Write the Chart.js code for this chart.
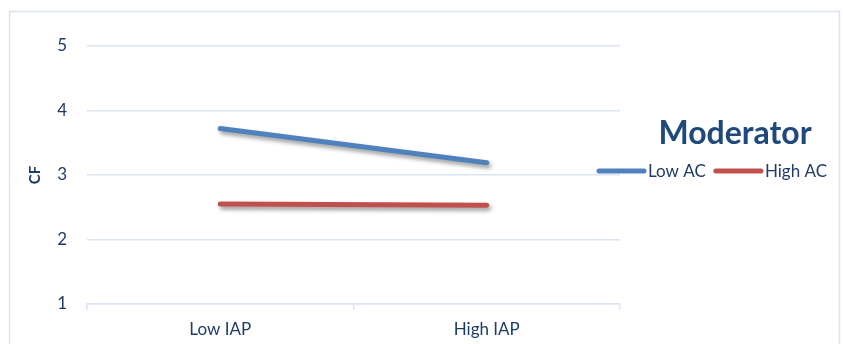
<!DOCTYPE html>
<html>
<head>
<meta charset="utf-8">
<script src="https://cdn.jsdelivr.net/npm/chart.js@4/dist/chart.umd.min.js"></script>
<style>
  html, body { margin: 0; padding: 0; background: #ffffff; }
  #wrap { width: 843px; height: 344px; position: relative; }
</style>
</head>
<body>
<div id="wrap"><canvas id="c" width="843" height="344"></canvas></div>
<script>
// Interaction plot: CF by IAP level, split by the AC moderator
const categories = ['Low IAP', 'High IAP'];
const lowAC = [3.72, 3.19];
const highAC = [2.55, 2.53];
const seriesNames = ['Low AC', 'High AC'];
const legendTitle = 'Moderator';
const yTitle = 'CF';
const yTicks = [1, 2, 3, 4, 5];

const FONT = 'Lato, "Open Sans", sans-serif';
const TEXT = '#1f3b66';
const GRID = '#d9e3f2';

// Soft drop shadow under each series line
const shadowPlugin = {
  id: 'lineShadow',
  beforeDatasetDraw(chart) {
    const ctx = chart.ctx;
    ctx.save();
    ctx.shadowColor = 'rgba(0,0,0,0.4)';
    ctx.shadowBlur = 4;
    ctx.shadowOffsetX = 2;
    ctx.shadowOffsetY = 3;
  },
  afterDatasetDraw(chart) {
    chart.ctx.restore();
  }
};

// Frame around the whole chart plus the side legend with its title
const framePlugin = {
  id: 'frameAndLegend',
  beforeDraw(chart) {
    const ctx = chart.ctx;
    ctx.save();
    ctx.strokeStyle = GRID;
    ctx.lineWidth = 1.5;
    ctx.beginPath();
    ctx.moveTo(9.5, 360);
    ctx.lineTo(9.5, 11.5);
    ctx.lineTo(839.5, 11.5);
    ctx.lineTo(839.5, 360);
    ctx.stroke();
    ctx.restore();
  },
  afterDraw(chart) {
    const ctx = chart.ctx;
    ctx.save();
    ctx.fillStyle = '#1f497d';
    ctx.font = 'bold 32px ' + FONT;
    ctx.textAlign = 'center';
    ctx.textBaseline = 'middle';
    ctx.fillText(legendTitle, 735, 134);

    ctx.font = '17px ' + FONT;
    ctx.textAlign = 'left';
    let x = 599;
    const y = 171;
    chart.data.datasets.forEach((ds) => {
      ctx.strokeStyle = ds.borderColor;
      ctx.lineWidth = 5;
      ctx.lineCap = 'round';
      ctx.beginPath();
      ctx.moveTo(x, y);
      ctx.lineTo(x + 45, y);
      ctx.stroke();
      ctx.fillStyle = TEXT;
      ctx.fillText(ds.label, x + 49, y + 1);
      x += 49 + ctx.measureText(ds.label).width + 10;
    });
    ctx.restore();
  }
};

new Chart(document.getElementById('c'), {
  type: 'line',
  data: {
    labels: categories,
    datasets: [
      { label: seriesNames[0], data: lowAC, borderColor: '#4f81bd', backgroundColor: '#4f81bd' },
      { label: seriesNames[1], data: highAC, borderColor: '#c0504d', backgroundColor: '#c0504d' }
    ]
  },
  options: {
    responsive: false,
    animation: false,
    devicePixelRatio: 1,
    layout: { padding: { top: 46, right: 223, bottom: 0, left: 10 } },
    elements: {
      line: { borderWidth: 5, borderCapStyle: 'round', tension: 0 },
      point: { radius: 0, hoverRadius: 0 }
    },
    plugins: {
      legend: { display: false },
      tooltip: { enabled: false }
    },
    scales: {
      x: {
        offset: true,
        grid: { offset: true, drawOnChartArea: false, drawTicks: true, tickLength: 6, color: GRID, lineWidth: 1.5 },
        border: { display: true, color: GRID, width: 1.5 },
        ticks: { color: TEXT, font: { family: FONT, size: 17 }, padding: 9 },
        afterFit(scale) { scale.height = 40; }
      },
      y: {
        min: 1,
        max: 5,
        afterBuildTicks(scale) { scale.ticks = yTicks.map(v => ({ value: v })); },
        grid: { drawTicks: false, color: GRID, lineWidth: 1.5 },
        border: { display: false },
        ticks: { color: TEXT, font: { family: FONT, size: 17 }, padding: 20 },
        title: {
          display: true,
          text: yTitle,
          color: TEXT,
          font: { family: FONT, size: 15, weight: 'bold' },
          padding: { top: 16, bottom: 0 }
        },
        afterFit(scale) { scale.width = 77; }
      }
    }
  },
  plugins: [shadowPlugin, framePlugin]
});
</script>
</body>
</html>
